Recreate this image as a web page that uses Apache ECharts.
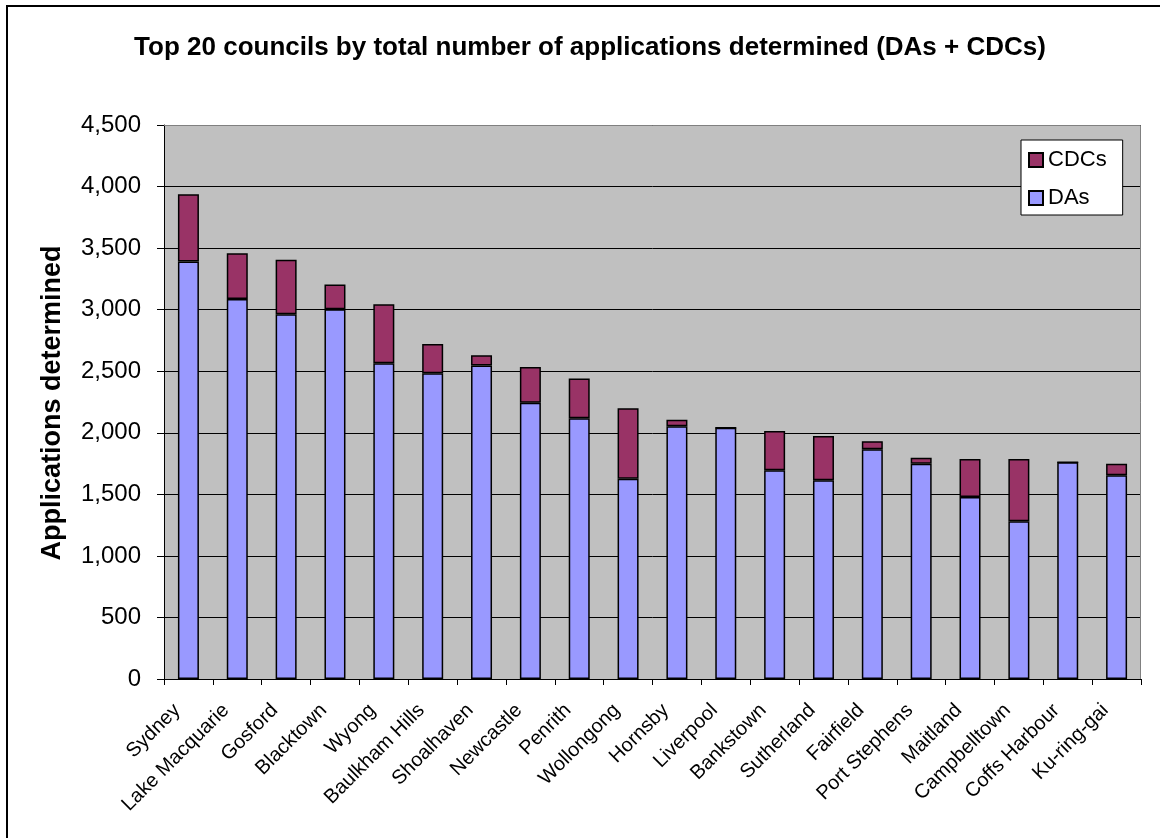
<!DOCTYPE html>
<html>
<head>
<meta charset="utf-8">
<script src="https://cdn.jsdelivr.net/npm/echarts@6/dist/echarts.min.js"></script>
<style>
  html, body { margin: 0; padding: 0; background: #ffffff; }
  #chart { width: 1160px; height: 838px; }
</style>
</head>
<body>
<div id="chart"></div>
<script>
// Councils ranked by total applications determined
const councils = [
  'Sydney', 'Lake Macquarie', 'Gosford', 'Blacktown', 'Wyong',
  'Baulkham Hills', 'Shoalhaven', 'Newcastle', 'Penrith', 'Wollongong',
  'Hornsby', 'Liverpool', 'Bankstown', 'Sutherland', 'Fairfield',
  'Port Stephens', 'Maitland', 'Campbelltown', 'Coffs Harbour', 'Ku-ring-gai'
];

// Development applications determined
const daValues = [
  3392, 3087, 2962, 3003, 2565,
  2484, 2546, 2243, 2119, 1627,
  2054, 2041, 1695, 1614, 1867,
  1749, 1478, 1281, 1760, 1654
];

// Complying development certificates determined
const cdcValues = [
  546, 372, 443, 202, 478,
  237, 84, 292, 322, 573,
  51, 0, 319, 359, 65,
  48, 309, 506, 0, 95
];

const titleText = 'Top 20 councils by total number of applications determined (DAs + CDCs)';
const yAxisTitle = 'Applications determined';

const FONT = '"Liberation Sans", Arial, sans-serif';

const chart = echarts.init(document.getElementById('chart'), null, { renderer: 'canvas' });

chart.setOption({
  animation: false,
  backgroundColor: '#ffffff',
  textStyle: { fontFamily: FONT },
  grid: {
    left: 164, top: 125, right: 19, bottom: 159,
    show: true,
    backgroundColor: '#C0C0C0',
    borderWidth: 0
  },
  legend: {
    data: ['CDCs', 'DAs'],
    orient: 'vertical',
    left: 1021, top: 140,
    icon: 'rect',
    itemWidth: 14, itemHeight: 14,
    itemGap: 16,
    padding: [9, 16, 6, 7],
    backgroundColor: '#ffffff',
    borderColor: '#000000',
    borderWidth: 1,
    textStyle: { fontFamily: FONT, fontSize: 22, color: '#000000' }
  },
  xAxis: {
    type: 'category',
    data: councils,
    axisLine: { show: true, lineStyle: { color: '#000000', width: 1 } },
    axisTick: { show: true, length: 6, lineStyle: { color: '#000000' } },
    axisLabel: {
      rotate: 45, margin: 17, interval: 0,
      padding: [0, 16, 0, 0],
      fontFamily: FONT, fontSize: 20, color: '#000000'
    }
  },
  yAxis: {
    type: 'value',
    min: 0, max: 4500, interval: 500,
    axisLine: { show: true, lineStyle: { color: '#000000', width: 1 } },
    axisTick: { show: true, length: 7, lineStyle: { color: '#000000' } },
    axisLabel: {
      margin: 23, fontFamily: FONT, fontSize: 24, color: '#000000',
      formatter: v => v.toLocaleString('en-US')
    },
    splitLine: { show: true, lineStyle: { color: '#000000', width: 1 } }
  },
  graphic: [
    // outer frame
    { type: 'polyline', z: 100,
      shape: { points: [[7, 900], [7, 6], [1200, 6]] },
      style: { stroke: '#000000', lineWidth: 2, fill: null } },
    // plot area border (top and right)
    { type: 'polyline', z: 100,
      shape: { points: [[164, 125.5], [1140.5, 125.5], [1140.5, 679]] },
      style: { stroke: '#808080', lineWidth: 1, fill: null } },
    { type: 'text', z: 100, x: 590, y: 48,
      style: { text: titleText, font: 'bold 26px ' + FONT, fill: '#000000',
               textAlign: 'center', textVerticalAlign: 'middle' } },
    { type: 'text', z: 100, x: 53, y: 403, rotation: Math.PI / 2,
      style: { text: yAxisTitle, font: 'bold 27px ' + FONT, fill: '#000000',
               textAlign: 'center', textVerticalAlign: 'middle' } }
  ],
  series: [
    {
      name: 'DAs', type: 'bar', stack: 'total',
      data: daValues, barWidth: 21,
      itemStyle: { color: '#9999FF', borderColor: '#000000', borderWidth: 1.5 }
    },
    {
      name: 'CDCs', type: 'bar', stack: 'total',
      data: cdcValues, barWidth: 21,
      itemStyle: { color: '#993366', borderColor: '#000000', borderWidth: 1.5 }
    }
  ]
});
</script>
</body>
</html>
